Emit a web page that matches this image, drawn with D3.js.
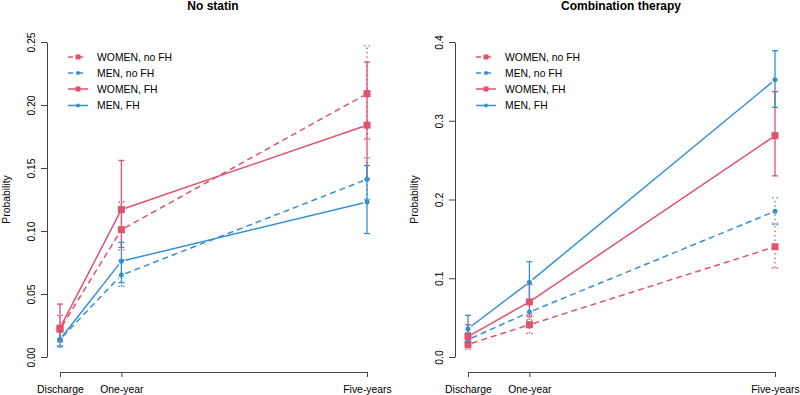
<!DOCTYPE html>
<html>
<head>
<meta charset="utf-8">
<script src="https://cdn.jsdelivr.net/npm/d3@7"></script>
<style>
  body { margin: 0; background: #fff; }
  svg { font-family: "Liberation Sans", Arial, Helvetica, sans-serif; }
</style>
</head>
<body>
<div id="chart"></div>
<script>
// time points (years after discharge) and their labels
var timeYears = [0, 1, 5];
var timeLabels = ["Discharge", "One-year", "Five-years"];

// series order: WOMEN no FH, MEN no FH, WOMEN FH, MEN FH
var seriesNames = ["WOMEN, no FH", "MEN, no FH", "WOMEN, FH", "MEN, FH"];
var seriesWomen = [true, false, true, false];
var seriesFH = [false, false, true, true];

// no statin panel
var noStatinMean = [
  [0.022, 0.101, 0.209],
  [0.014, 0.065, 0.141],
  [0.023, 0.117, 0.184],
  [0.014, 0.076, 0.123]
];
var noStatinLower = [
  [0.013, 0.085, 0.173],
  [0.009, 0.056, 0.125],
  [0.012, 0.087, 0.141],
  [0.008, 0.059, 0.098]
];
var noStatinUpper = [
  [0.033, 0.123, 0.247],
  [0.021, 0.077, 0.158],
  [0.042, 0.156, 0.234],
  [0.024, 0.091, 0.152]
];
var noStatinTicks = [0, 0.05, 0.10, 0.15, 0.20, 0.25];

// combination therapy panel
var comboMean = [
  [0.016, 0.041, 0.140],
  [0.022, 0.057, 0.185],
  [0.026, 0.070, 0.281],
  [0.036, 0.095, 0.352]
];
var comboLower = [
  [0.010, 0.030, 0.113],
  [0.015, 0.047, 0.168],
  [0.016, 0.051, 0.230],
  [0.024, 0.072, 0.317]
];
var comboUpper = [
  [0.025, 0.053, 0.170],
  [0.031, 0.068, 0.202],
  [0.041, 0.092, 0.337],
  [0.053, 0.121, 0.389]
];
var comboTicks = [0, 0.1, 0.2, 0.3, 0.4];

var red = "#df536b",
    blue = "#3590d2";

var svg = d3.select("#chart")
  .append("svg")
    .attr("width", 800)
    .attr("height", 395);

function drawPanel(dx, title, yMax, yTicks, fmt, mean, lower, upper) {
  var g = svg.append("g")
    .attr("transform", "translate(" + dx + ",0)");

  var x = d3.scaleLinear().domain([0, 5]).range([60, 367]);
  var y = d3.scaleLinear().domain([0, yMax]).range([357, 42]);

  // title
  g.append("text")
    .attr("x", 213)
    .attr("y", 9.5)
    .attr("text-anchor", "middle")
    .style("font-size", "12px")
    .style("font-weight", "bold")
    .text(title);

  // y axis, R style with rotated labels
  var ya = g.append("g")
    .attr("transform", "translate(47,0)")
    .call(d3.axisLeft(y).tickValues(yTicks).tickFormat(fmt).tickSize(6).tickSizeOuter(0));
  ya.selectAll("text")
    .attr("x", 0)
    .attr("y", -12)
    .attr("dy", 0)
    .attr("transform", "rotate(-90)")
    .attr("text-anchor", "middle")
    .style("font-size", "10.4px")
    .style("font-family", "inherit")
    .attr("fill", "#000");

  // x axis
  var xa = g.append("g")
    .attr("transform", "translate(0,372)")
    .call(d3.axisBottom(x).tickValues(timeYears)
      .tickFormat(function(d, i) { return timeLabels[i]; })
      .tickSize(5).tickSizeOuter(0));
  xa.selectAll("text")
    .attr("y", 20.5)
    .attr("dy", 0)
    .style("font-size", "10.4px")
    .style("font-family", "inherit")
    .attr("fill", "#000");

  g.selectAll(".domain, .tick line").attr("stroke", "#444");

  g.append("text")
    .attr("transform", "translate(10,199.5)rotate(-90)")
    .attr("text-anchor", "middle")
    .style("font-size", "10.4px")
    .text("Probability");

  // error bars
  mean.forEach(function(vals, s) {
    var col = seriesWomen[s] ? red : blue;
    var dash = seriesFH[s] ? null : "1.5,3";
    vals.forEach(function(v, i) {
      var px = x(timeYears[i]);
      var eb = g.append("g")
        .attr("stroke", col)
        .attr("stroke-width", 1.3)
        .attr("stroke-dasharray", dash);
      eb.append("line")
        .attr("x1", px).attr("x2", px)
        .attr("y1", y(lower[s][i])).attr("y2", y(upper[s][i]));
      [lower[s][i], upper[s][i]].forEach(function(e) {
        eb.append("line")
          .attr("x1", px - 3).attr("x2", px + 3)
          .attr("y1", y(e)).attr("y2", y(e))
          .attr("stroke-dasharray", null);
      });
    });
  });

  // lines between points, with gaps round the markers
  var gap = 4;
  mean.forEach(function(vals, s) {
    var col = seriesWomen[s] ? red : blue;
    for (var i = 0; i < vals.length - 1; i++) {
      var x1 = x(timeYears[i]), y1 = y(vals[i]),
          x2 = x(timeYears[i + 1]), y2 = y(vals[i + 1]);
      var len = Math.sqrt((x2 - x1) * (x2 - x1) + (y2 - y1) * (y2 - y1));
      var ux = (x2 - x1) / len, uy = (y2 - y1) / len;
      g.append("line")
        .attr("x1", x1 + ux * gap).attr("y1", y1 + uy * gap)
        .attr("x2", x2 - ux * gap).attr("y2", y2 - uy * gap)
        .attr("stroke", col)
        .attr("stroke-width", 1.5)
        .attr("stroke-dasharray", seriesFH[s] ? null : "6,4");
    }
  });

  // markers
  mean.forEach(function(vals, s) {
    vals.forEach(function(v, i) {
      if (seriesWomen[s]) {
        g.append("rect")
          .attr("x", x(timeYears[i]) - 3.5)
          .attr("y", y(v) - 3.5)
          .attr("width", 7)
          .attr("height", 7)
          .attr("fill", red);
      } else {
        g.append("circle")
          .attr("cx", x(timeYears[i]))
          .attr("cy", y(v))
          .attr("r", 2.5)
          .attr("fill", blue);
      }
    });
  });

  // legend
  var rows = [57, 73, 89, 105.5];
  seriesNames.forEach(function(name, s) {
    var col = seriesWomen[s] ? red : blue;
    var lg = g.append("g").attr("transform", "translate(0," + rows[s] + ")");
    lg.append("line")
      .attr("x1", 68).attr("x2", 88)
      .attr("y1", 0).attr("y2", 0)
      .attr("stroke", col)
      .attr("stroke-width", 1.5)
      .attr("stroke-dasharray", seriesFH[s] ? null : "5,5");
    if (seriesWomen[s]) {
      lg.append("rect").attr("x", 75.5).attr("y", -2.5).attr("width", 5).attr("height", 5).attr("fill", col);
    } else {
      lg.append("circle").attr("cx", 78).attr("cy", 0).attr("r", 2).attr("fill", col);
    }
    lg.append("text")
      .attr("x", 97)
      .attr("y", 0)
      .attr("dy", "0.36em")
      .style("font-size", "10.4px")
      .text(name);
  });
}

drawPanel(0, "No statin", 0.25, noStatinTicks, d3.format(".2f"), noStatinMean, noStatinLower, noStatinUpper);
drawPanel(408, "Combination therapy", 0.4, comboTicks, d3.format(".1f"), comboMean, comboLower, comboUpper);
</script>
</body>
</html>
